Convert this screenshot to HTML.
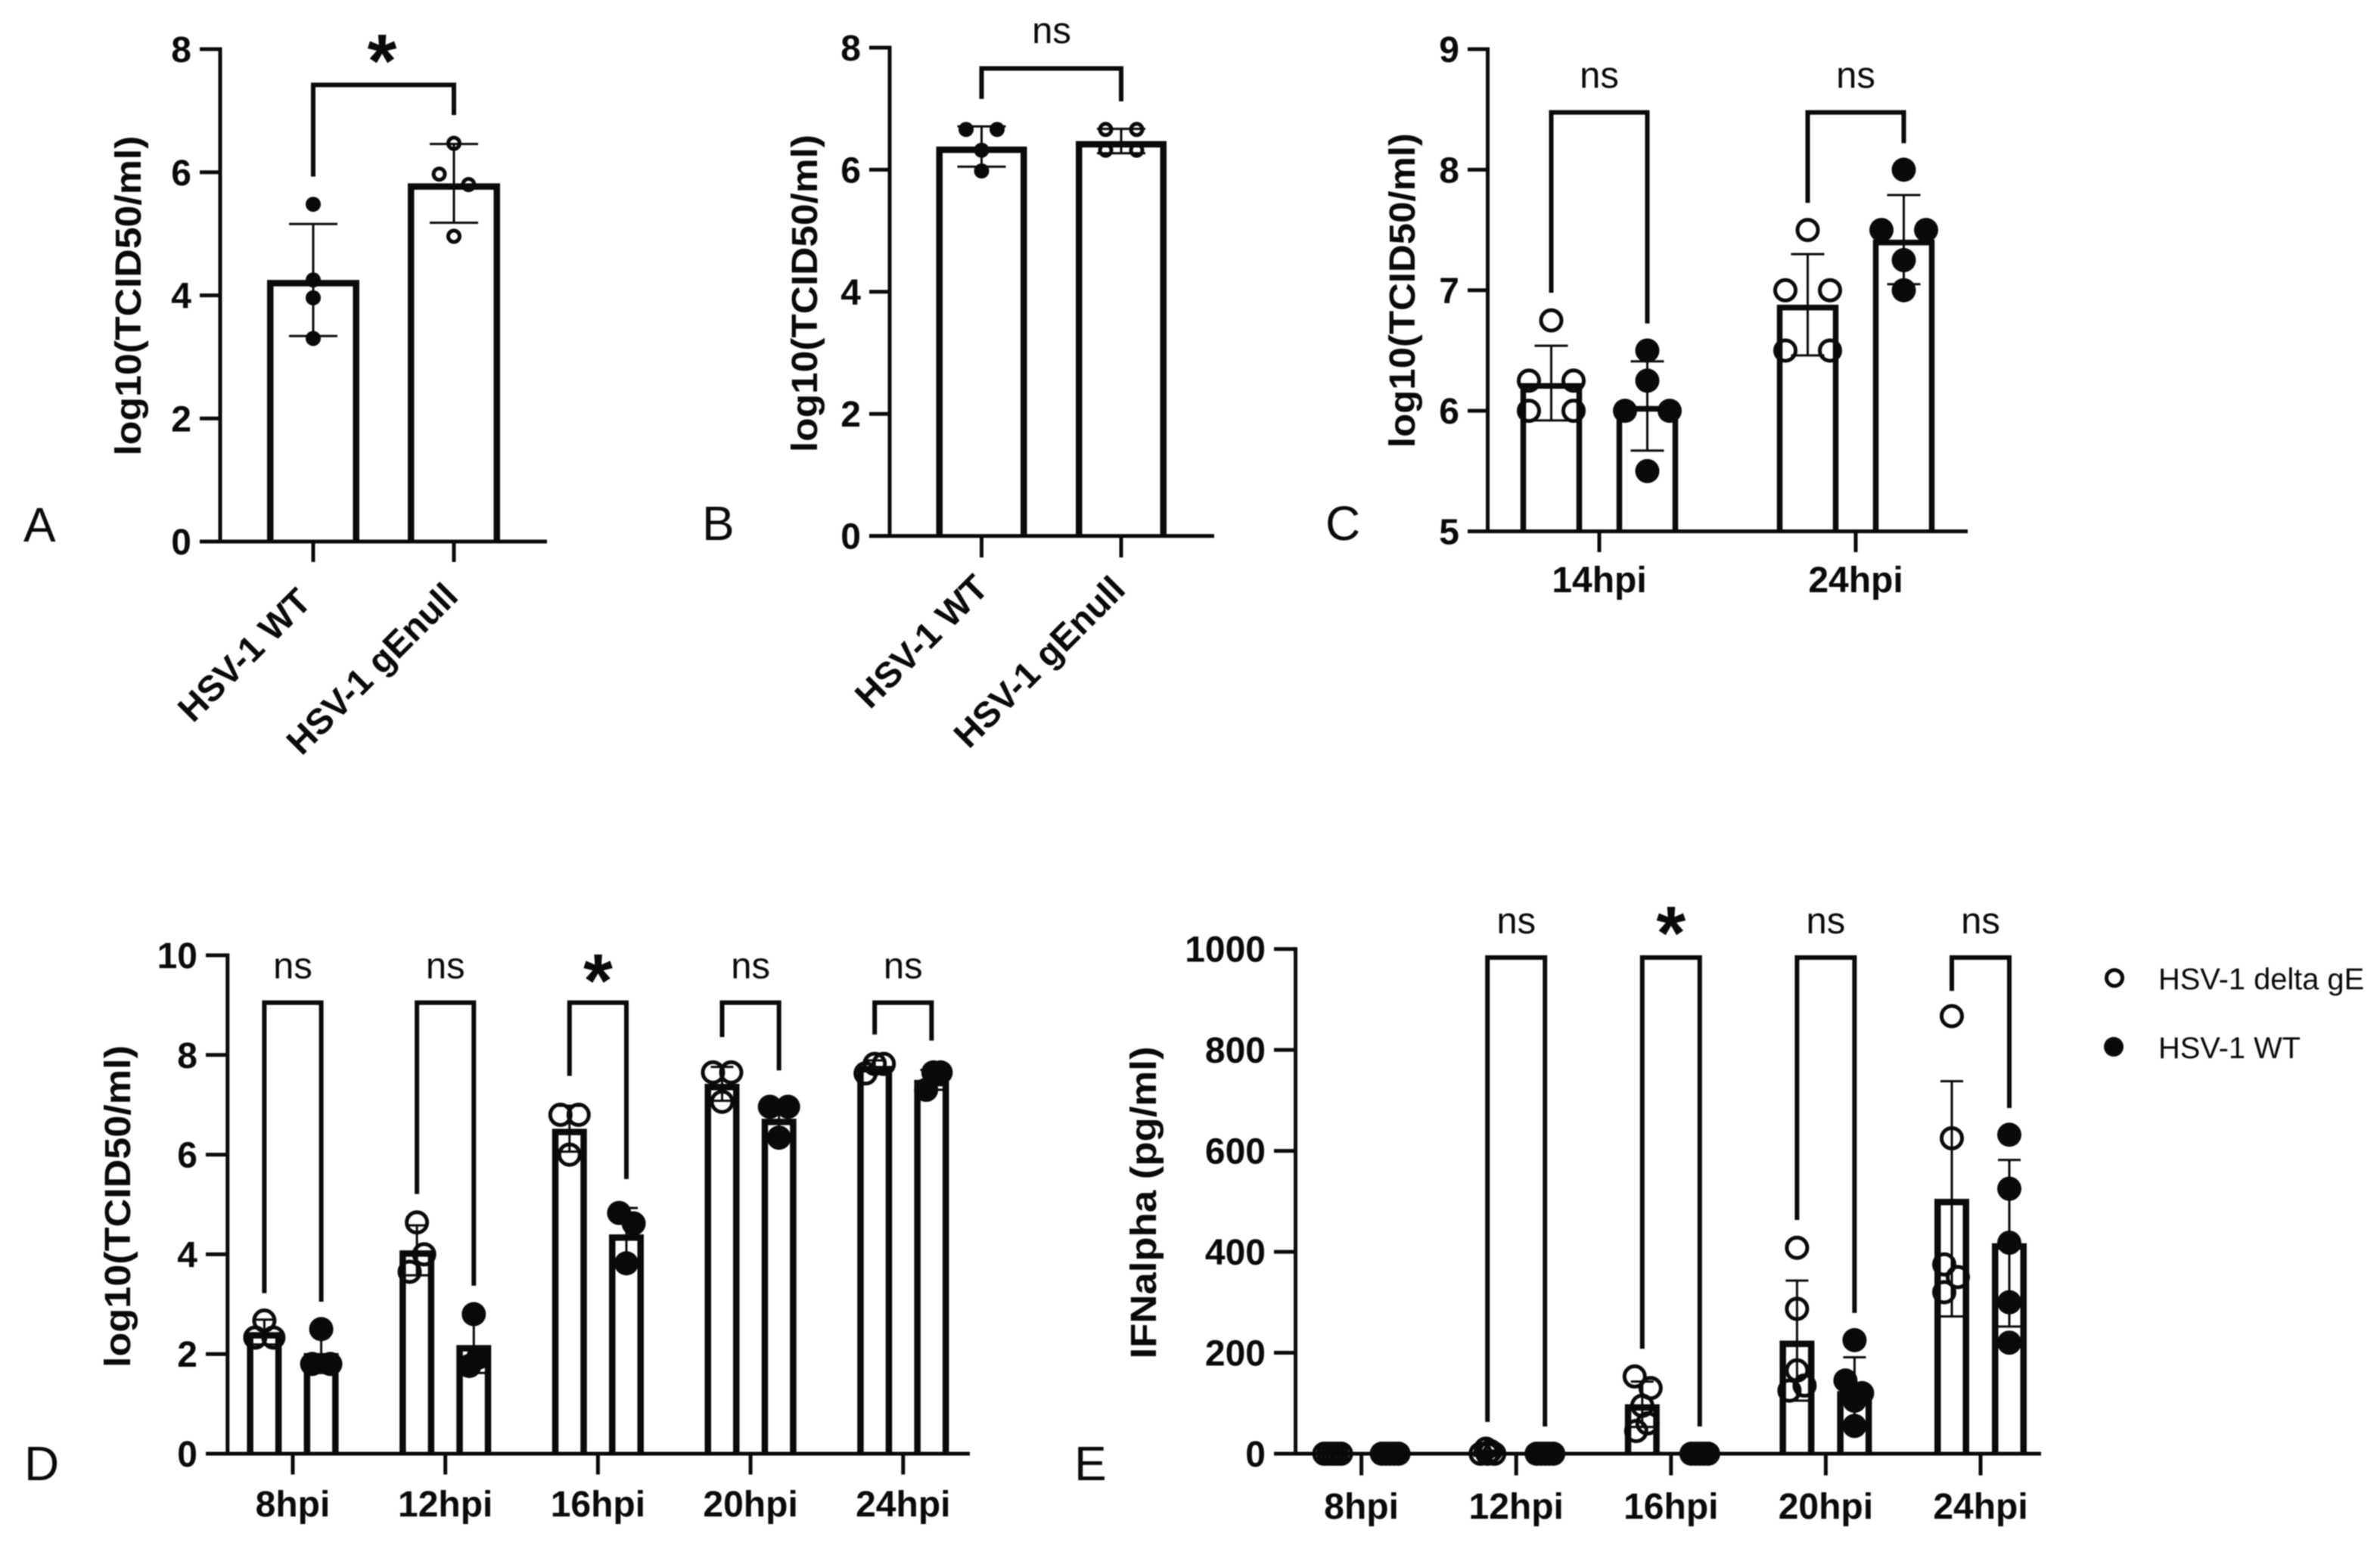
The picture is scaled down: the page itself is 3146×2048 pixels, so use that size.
<!DOCTYPE html>
<html lang="en">
<head>
<meta charset="utf-8">
<title>HSV-1 titers and IFN-alpha bar charts</title>
<style>
  html, body { margin: 0; padding: 0; background: #fff; }
  body { width: 3146px; height: 2048px; overflow: hidden; }
  svg { display: block; filter: blur(0.8px); }
  text { font-family: "Liberation Sans", Arial, sans-serif; fill: #0a0a0a; }
  .tick { font-size: 48px; font-weight: bold; }
  .xrot { font-size: 47.6px; font-weight: bold; }
  .title { font-size: 48px; font-weight: bold; }
  .ns { font-size: 49px; }
  .star { font-size: 100px; font-weight: bold; }
  .letter { font-size: 64px; }
  .legend { font-size: 39.8px; }
</style>
</head>
<body>
<svg id="figure" xmlns="http://www.w3.org/2000/svg" width="3146" height="2048" viewBox="0 0 3146 2048">
  <rect x="0" y="0" width="3146" height="2048" fill="#fff"/>

  <text class="letter" x="31" y="716">A</text>
  <text class="letter" x="928" y="714">B</text>
  <text class="letter" x="1752" y="714">C</text>
  <text class="letter" x="32" y="1957">D</text>
  <text class="letter" x="1420" y="1957">E</text>

  <text class="title" transform="translate(186,391) rotate(-90)" text-anchor="middle" textLength="423" lengthAdjust="spacingAndGlyphs">log10(TCID50/ml)</text>
  <text class="title" transform="translate(1080,388) rotate(-90)" text-anchor="middle" textLength="420" lengthAdjust="spacingAndGlyphs">log10(TCID50/ml)</text>
  <text class="title" transform="translate(1870,384) rotate(-90)" text-anchor="middle" textLength="416" lengthAdjust="spacingAndGlyphs">log10(TCID50/ml)</text>
  <text class="title" transform="translate(172,1595) rotate(-90)" text-anchor="middle" textLength="426" lengthAdjust="spacingAndGlyphs">log10(TCID50/ml)</text>
  <text class="title" transform="translate(1528,1590) rotate(-90)" text-anchor="middle" textLength="413" lengthAdjust="spacingAndGlyphs">IFNalpha (pg/ml)</text>

  <g>
    <circle cx="2795" cy="1293" r="10.5" fill="none" stroke="#0a0a0a" stroke-width="5"/>
    <text class="legend" x="2853" y="1308">HSV-1 delta gE</text>
    <circle cx="2794" cy="1384" r="13" fill="#0a0a0a"/>
    <text class="legend" x="2853" y="1399">HSV-1 WT</text>
  </g>
</svg>

<script>
// ---------- Panel A data ----------
const aCategories = ['HSV-1 WT', 'HSV-1 gEnull'];
const aTicks = [0, 2, 4, 6, 8];
const aMeans = [4.25, 5.82];
const aSds = [0.91, 0.64];
const aKinds = ['filled', 'open'];
const aPoints = [[5.48, 4.25, 3.96, 3.3], [6.47, 5.97, 5.8, 4.96]];
const aSwarm = [[0, 0, 0, 0], [0, -1, 1, 0]];
const aSigLabels = ['*'];
const aBracketTops = [7.42];
const aBracketEnds = [[5.93, 6.93]];

// ---------- Panel B data ----------
const bCategories = ['HSV-1 WT', 'HSV-1 gEnull'];
const bTicks = [0, 2, 4, 6, 8];
const bMeans = [6.38, 6.47];
const bSds = [0.33, 0.2];
const bKinds = ['filled', 'open'];
const bPoints = [[6.66, 6.66, 6.32, 5.98], [6.66, 6.66, 6.32, 6.32]];
const bSwarm = [[-1, 1, 0, 0], [-1, 1, -1, 1]];
const bSigLabels = ['ns'];
const bBracketTops = [7.66];
const bBracketEnds = [[7.16, 7.12]];

// ---------- Panel C data ----------
const cCategories = ['14hpi', '24hpi'];
const cTicks = [5, 6, 7, 8, 9];
const cDeltaMeans = [6.23, 6.88];
const cDeltaSds = [0.31, 0.42];
const cDeltaPoints = [[6.75, 6.25, 6.25, 6, 6], [7.5, 7, 7, 6.5, 6.5]];
const cDeltaSwarm = [[0, -1, 1, -1, 1], [0, -1, 1, -1, 1]];
const cWtMeans = [6.04, 7.42];
const cWtSds = [0.37, 0.37];
const cWtPoints = [[6.5, 6.25, 6, 6, 5.5], [8, 7.5, 7.5, 7.25, 7]];
const cWtSwarm = [[0, 0, -1, 1, 0], [0, -1, 1, 0, 0]];
const cSigLabels = ['ns', 'ns'];
const cBracketTops = [8.475, 8.475];
const cBracketEnds = [[6.98, 6.725], [7.725, 8.22]];

// ---------- Panel D data ----------
const dCategories = ['8hpi', '12hpi', '16hpi', '20hpi', '24hpi'];
const dTicks = [0, 2, 4, 6, 8, 10];
const dDeltaMeans = [2.44, 4.08, 6.52, 7.42, 7.78];
const dDeltaSds = [0.25, 0.5, 0.46, 0.34, 0.11];
const dDeltaPoints = [[2.67, 2.33, 2.33], [4.64, 4.0, 3.65], [6.8, 6.8, 6.0], [7.65, 7.65, 7.06], [7.82, 7.82, 7.63]];
const dDeltaSwarm = [[0, -1, 1], [0, 0.8, -0.8], [-1, 1, 0], [-1, 1, 0], [0, 1, -1]];
const dWtMeans = [2.02, 2.18, 4.4, 6.72, 7.5];
const dWtSds = [0.4, 0.56, 0.53, 0.36, 0.2];
const dWtPoints = [[2.5, 1.8, 1.8], [2.8, 1.93, 1.76], [4.83, 4.62, 3.82], [6.96, 6.96, 6.34], [7.65, 7.65, 7.3]];
const dWtSwarm = [[0, -1, 1], [0, 0.5, -0.5], [-0.8, 0.8, 0], [-1, 1, 0], [1, 0.2, -0.6]];
const dSigLabels = ['ns', 'ns', '*', 'ns', 'ns'];
const dBracketTops = [9.05, 9.05, 9.05, 9.05, 9.05];
const dBracketEnds = [[3.22, 3.05], [5.21, 3.37], [7.58, 5.51], [8.36, 7.69], [8.41, 8.29]];

// ---------- Panel E data ----------
const eCategories = ['8hpi', '12hpi', '16hpi', '20hpi', '24hpi'];
const eTicks = [0, 200, 400, 600, 800, 1000];
const eDeltaMeans = [0, 3, 98, 224, 505];
const eDeltaSds = [0, 3, 45, 119, 233];
const eDeltaPoints = [[0, 0, 0, 0, 0], [10, 5, 0, 0, 0], [153, 130, 95, 60, 45], [408, 287, 165, 135, 125], [867, 625, 375, 350, 320]];
const eDeltaSwarm = [[-1.1, -0.55, 0, 0.55, 1.1], [-0.2, 0.4, -0.9, 0.9, 0], [-1, 1.1, 0, 0.7, -0.8], [0, 0, 0, 1, -1], [0, 0, -1, 0.8, -1]];
const eWtMeans = [0, 0, 0, 124, 417];
const eWtSds = [0, 0, 0, 67, 165];
const eWtPoints = [[0, 0, 0, 0, 0], [0, 0, 0, 0, 0], [0, 0, 0, 0, 0], [225, 145, 120, 105, 55], [632, 525, 418, 300, 220]];
const eWtSwarm = [[-1.1, -0.55, 0, 0.55, 1.1], [-1.1, -0.55, 0, 0.55, 1.1], [-1.1, -0.55, 0, 0.55, 1.1], [0, -1.2, 1, 0, 0], [0, 0, 0, 0, 0]];
const eSigLabels = ['ns', '*', 'ns', 'ns'];
const eSigCategories = [1, 2, 3, 4];
const eBracketTops = [983, 983, 983, 983];
const eBracketEnds = [[63, 54], [208, 54], [463, 279], [917, 685]];

// ---------- Drawing ----------
const SVG_NS = 'http://www.w3.org/2000/svg';
const INK = '#0a0a0a';
const figure = document.getElementById('figure');

function make(tag, attrs, parent) {
  const node = document.createElementNS(SVG_NS, tag);
  for (const key in attrs) node.setAttribute(key, attrs[key]);
  parent.appendChild(node);
  return node;
}

function linearScale(domainMin, domainMax, pixelMin, pixelMax) {
  return function (v) {
    return pixelMin + (v - domainMin) / (domainMax - domainMin) * (pixelMax - pixelMin);
  };
}

function drawAxes(group, layout, ticks, y) {
  const yLine = make('line', { x1: layout.axisX, x2: layout.axisX, y1: y(ticks[ticks.length - 1]) - 2.5, y2: y(ticks[0]), stroke: INK, 'stroke-width': 5 }, group);
  
  
  const xLine = make('line', { x1: layout.tickLeft, x2: layout.axisRight, y1: y(ticks[0]), y2: y(ticks[0]), stroke: INK, 'stroke-width': 5 }, group);
  
  
  ticks.forEach(function (t) {
    const mark = make('line', { x1: layout.tickLeft, x2: layout.axisX, y1: y(t), y2: y(t), stroke: INK, 'stroke-width': 5 }, group);
    
    
    const label = make('text', { x: layout.tickLeft - 11, y: y(t) + 17, 'text-anchor': 'end', class: 'tick' }, group);
    
    
    label.textContent = String(t);
  });
}

function drawXTick(group, layout, x, baseY, text, index) {
  const mark = make('line', { x1: x, x2: x, y1: baseY, y2: layout.xTickBottom, stroke: INK, 'stroke-width': 5 }, group);
  
  
  let label;
  if (layout.rotated) {
    const ax = x + (index === 0 ? layout.labelDxFirst : layout.labelDxSecond);
    const ay = index === 0 ? layout.labelYFirst : layout.labelYSecond;
    label = make('text', { transform: 'translate(' + ax + ',' + ay + ') rotate(-45)', 'text-anchor': 'end', class: 'xrot' }, group);
  } else {
    label = make('text', { x: x, y: layout.labelY, 'text-anchor': 'middle', class: 'tick' }, group);
  }
  
  
  label.textContent = text;
}

function drawBar(group, layout, y, cx, mean) {
  const s = layout.barStroke;
  const bottom = y(layout.base);
  const top = Math.min(y(mean) + s / 2, bottom);
  const left = cx - layout.barWidth / 2 + s / 2;
  const right = cx + layout.barWidth / 2 - s / 2;
  const d = 'M' + left + ' ' + bottom + ' V' + top + ' H' + right + ' V' + bottom;
  const bar = make('path', { d: d, fill: '#fff', stroke: INK, 'stroke-width': s }, group);
  
  
}

function drawError(group, layout, y, cx, mean, sd) {
  const hi = y(mean + sd);
  const lo = y(Math.max(layout.base, mean - sd));
  const stem = make('line', { x1: cx, x2: cx, y1: hi, y2: lo, stroke: INK, 'stroke-width': 3 }, group);
  
  
  [hi, lo].forEach(function (py) {
    const cap = make('line', { x1: cx - layout.capWidth / 2, x2: cx + layout.capWidth / 2, y1: py, y2: py, stroke: INK, 'stroke-width': 3 }, group);
    
    
  });
}

function drawPoints(group, layout, y, cx, values, swarm, kind) {
  values.forEach(function (v, i) {
    const px = cx + swarm[i] * layout.swarmStep;
    let dot;
    if (kind === 'open') {
      dot = make('circle', { cx: px, cy: y(v), r: layout.dotRadius - layout.dotStroke / 2, fill: 'none', stroke: INK, 'stroke-width': layout.dotStroke }, group);
    } else {
      dot = make('circle', { cx: px, cy: y(v), r: layout.dotRadius, fill: INK }, group);
    }
    
    
  });
}

function drawBracket(group, layout, y, xLeft, xRight, top, ends, text, labelX) {
  const d = 'M' + xLeft + ' ' + y(ends[0]) + ' V' + y(top) + ' H' + xRight + ' V' + y(ends[1]);
  const path = make('path', { d: d, fill: 'none', stroke: INK, 'stroke-width': layout.bracketStroke }, group);
  
  
  const isStar = text === '*';
  const label = make('text', { x: labelX, y: isStar ? layout.starY : layout.nsY, 'text-anchor': 'middle', class: isStar ? 'star' : 'ns' }, group);
  
  
  label.textContent = text;
}

// Panels A and B: one bar per category
function drawSinglePanel(panelName, layout, categories, ticks, means, sds, kinds, points, swarm, sigLabels, tops, ends) {
  const group = make('g', {}, figure);
  
  
  const y = linearScale(ticks[0], ticks[ticks.length - 1], layout.y0, layout.yTop);
  const x = function (i) { return layout.x0 + i * layout.xStep; };
  categories.forEach(function (c, i) { drawBar(group, layout, y, x(i), means[i]); });
  drawAxes(group, layout, ticks, y);
  categories.forEach(function (c, i) {
    drawXTick(group, layout, x(i), y(ticks[0]), c, i);
    drawError(group, layout, y, x(i), means[i], sds[i]);
    drawPoints(group, layout, y, x(i), points[i], swarm[i], kinds[i]);
  });
  sigLabels.forEach(function (t, i) {
    drawBracket(group, layout, y, x(0), x(1), tops[i], ends[i], t, layout.sigX);
  });
}

// Panels C, D and E: two series per category
function drawGroupedPanel(panelName, layout, categories, ticks, deltaMeans, deltaSds, deltaPoints, deltaSwarm, wtMeans, wtSds, wtPoints, wtSwarm, sigLabels, sigCategories, tops, ends) {
  const group = make('g', {}, figure);
  
  
  const y = linearScale(ticks[0], ticks[ticks.length - 1], layout.y0, layout.yTop);
  const x = function (i) { return layout.x0 + i * layout.xStep; };
  categories.forEach(function (c, i) {
    drawBar(group, layout, y, x(i) - layout.dodge, deltaMeans[i]);
    drawBar(group, layout, y, x(i) + layout.dodge, wtMeans[i]);
  });
  drawAxes(group, layout, ticks, y);
  categories.forEach(function (c, i) {
    drawXTick(group, layout, x(i), y(ticks[0]), c, i);
    drawError(group, layout, y, x(i) - layout.dodge, deltaMeans[i], deltaSds[i]);
    drawError(group, layout, y, x(i) + layout.dodge, wtMeans[i], wtSds[i]);
    drawPoints(group, layout, y, x(i) - layout.dodge, deltaPoints[i], deltaSwarm[i], 'open');
    drawPoints(group, layout, y, x(i) + layout.dodge, wtPoints[i], wtSwarm[i], 'filled');
  });
  sigLabels.forEach(function (t, k) {
    const i = sigCategories[k];
    drawBracket(group, layout, y, x(i) - layout.dodge, x(i) + layout.dodge, tops[k], ends[k], t, x(i));
  });
}

drawSinglePanel('panel-a-chart', {
  axisX: 291, tickLeft: 264, axisRight: 723, y0: 716, yTop: 65, base: 0, x0: 414, xStep: 186,
  xTickBottom: 743, rotated: true, labelDxFirst: 0, labelDxSecond: 8, labelYFirst: 798, labelYSecond: 791,
  barWidth: 122, barStroke: 8.5, capWidth: 64,
  swarmStep: 19.4, dotRadius: 10, dotStroke: 5, bracketStroke: 6, starY: 115, nsY: 60, sigX: 505
}, aCategories, aTicks, aMeans, aSds, aKinds, aPoints, aSwarm, aSigLabels, aBracketTops, aBracketEnds);

drawSinglePanel('panel-b-chart', {
  axisX: 1176, tickLeft: 1149, axisRight: 1605, y0: 708.6, yTop: 63, base: 0, x0: 1297.5, xStep: 184.5,
  xTickBottom: 737, rotated: true, labelDxFirst: 11.5, labelDxSecond: 8, labelYFirst: 780, labelYSecond: 782,
  barWidth: 120, barStroke: 8.5, capWidth: 64,
  swarmStep: 20.5, dotRadius: 10, dotStroke: 5, bracketStroke: 6, starY: 100, nsY: 57, sigX: 1390
}, bCategories, bTicks, bMeans, bSds, bKinds, bPoints, bSwarm, bSigLabels, bBracketTops, bBracketEnds);

drawGroupedPanel('panel-c-chart', {
  axisX: 1966.5, tickLeft: 1940, axisRight: 2601, y0: 702.5, yTop: 65, base: 5, x0: 2114, xStep: 339, dodge: 63.5,
  xTickBottom: 730, labelY: 783, barWidth: 81.5, barStroke: 7.5, capWidth: 44,
  swarmStep: 29.5, dotRadius: 16, dotStroke: 5, bracketStroke: 6, starY: 150, nsY: 116
}, cCategories, cTicks, cDeltaMeans, cDeltaSds, cDeltaPoints, cDeltaSwarm, cWtMeans, cWtSds, cWtPoints, cWtSwarm, cSigLabels, [0, 1], cBracketTops, cBracketEnds);

drawGroupedPanel('panel-d-chart', {
  axisX: 300.8, tickLeft: 272, axisRight: 1282, y0: 1922, yTop: 1263, base: 0, x0: 387, xStep: 201.7, dodge: 37.6,
  xTickBottom: 1949.5, labelY: 2005, barWidth: 46, barStroke: 8.5, capWidth: 30,
  swarmStep: 12, dotRadius: 16, dotStroke: 5, bracketStroke: 6, starY: 1331, nsY: 1293.5
}, dCategories, dTicks, dDeltaMeans, dDeltaSds, dDeltaPoints, dDeltaSwarm, dWtMeans, dWtSds, dWtPoints, dWtSwarm, dSigLabels, [0, 1, 2, 3, 4], dBracketTops, dBracketEnds);

drawGroupedPanel('panel-e-chart', {
  axisX: 1712.5, tickLeft: 1684, axisRight: 2698, y0: 1922, yTop: 1254.7, base: 0, x0: 1799.6, xStep: 204.6, dodge: 38,
  xTickBottom: 1950.6, labelY: 2008, barWidth: 46, barStroke: 8.5, capWidth: 30,
  swarmStep: 10, dotRadius: 16, dotStroke: 5, bracketStroke: 6, starY: 1268, nsY: 1234
}, eCategories, eTicks, eDeltaMeans, eDeltaSds, eDeltaPoints, eDeltaSwarm, eWtMeans, eWtSds, eWtPoints, eWtSwarm, eSigLabels, eSigCategories, eBracketTops, eBracketEnds);
</script>
</body>
</html>
